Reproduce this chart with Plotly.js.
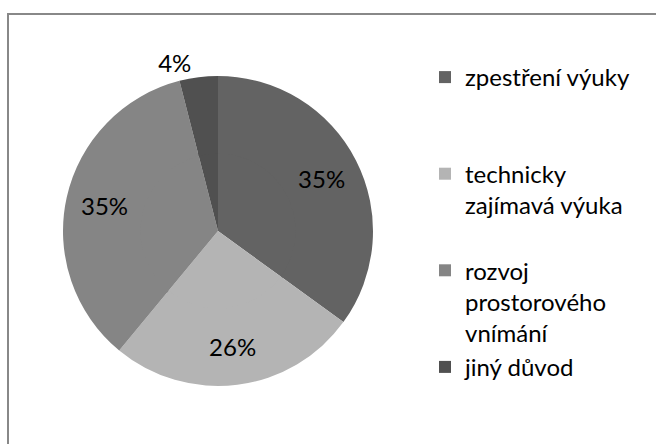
<!DOCTYPE html>
<html>
<head>
<meta charset="utf-8">
<script src="https://cdn.plot.ly/plotly-3.0.1.min.js"></script>
<style>html,body{margin:0;padding:0;background:#fff}#chart{width:656px;height:444px}</style>
</head>
<body>
<div id="chart"></div>
<script>
var categories = ["zpestření výuky", "technicky zajímavá výuka", "rozvoj prostorového vnímání", "jiný důvod"];
var legendLabels = ["zpestření výuky<br> <br> ", "technicky<br>zajímavá výuka<br> ", "rozvoj<br>prostorového<br>vnímání", "jiný důvod"];
var values = [35, 26, 35, 4];
var colors = ["#636363", "#b4b4b4", "#858585", "#505050"];

var cx = 218, cy = 231, R = 155;
var holeFrac = 0.5;
var rin = R * holeFrac + 3;
var labelFont = {family: "Lato, 'Open Sans', sans-serif", size: 24, color: "#000000"};

var inner = {
  type: "pie",
  labels: legendLabels,
  values: values,
  sort: false,
  direction: "clockwise",
  rotation: 0,
  marker: {colors: colors, line: {width: 0}},
  textinfo: "none",
  showlegend: false,
  domain: {x: [(cx - rin)/656, (cx + rin)/656], y: [1 - (cy + rin)/444, 1 - (cy - rin)/444]},
  hoverinfo: "skip"
};

var outer = {
  type: "pie",
  labels: legendLabels,
  values: values,
  sort: false,
  direction: "clockwise",
  rotation: 0,
  hole: holeFrac,
  marker: {colors: colors, line: {color: "#ffffff", width: 0}},
  textinfo: "percent",
  texttemplate: "%{percent:.0%}",
  textposition: ["inside", "inside", "inside", "outside"],
  insidetextorientation: "horizontal",
  textfont: labelFont,
  outsidetextfont: labelFont,
  domain: {x: [(cx - R)/656, (cx + R)/656], y: [1 - (cy + R)/444, 1 - (cy - R)/444]},
  hoverinfo: "label+percent"
};

var layout = {
  width: 656,
  height: 444,
  margin: {l: 0, r: 0, t: 0, b: 0},
  paper_bgcolor: "#ffffff",
  showlegend: true,
  legend: {
    x: 425/656, xanchor: "left",
    y: 1 - 55/444, yanchor: "top",
    valign: "top",
    font: {family: "Lato, 'Open Sans', sans-serif", size: 24, color: "#000000"},
    bgcolor: "rgba(0,0,0,0)"
  },
  shapes: [{
    type: "rect", xref: "paper", yref: "paper",
    x0: 8/656, x1: 1.05, y0: -0.05, y1: 1 - 14/444,
    line: {color: "#888888", width: 2}
  }]
};

Plotly.newPlot("chart", [inner, outer], layout, {staticPlot: true});
</script>
</body>
</html>
